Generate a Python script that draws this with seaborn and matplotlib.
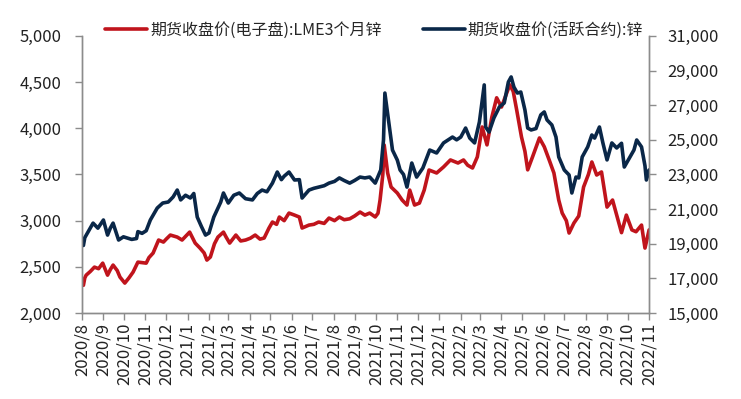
import pandas as pd
import matplotlib
matplotlib.use("Agg")
import matplotlib.pyplot as plt
import matplotlib.dates as mdates
import matplotlib.ticker as mticker
import seaborn as sns

#-------------------
# DATA
#-------------------

lme_dates = [
    "2020-08-03", "2020-08-05", "2020-08-07", "2020-08-13", "2020-08-19", "2020-08-25", "2020-08-31",
    "2020-09-07", "2020-09-11", "2020-09-15", "2020-09-21", "2020-09-25", "2020-10-02", "2020-10-08",
    "2020-10-14", "2020-10-21", "2020-11-02", "2020-11-06", "2020-11-12", "2020-11-20", "2020-11-27",
    "2020-12-01", "2020-12-07", "2020-12-17", "2020-12-24", "2021-01-04", "2021-01-12", "2021-01-19",
    "2021-01-25", "2021-01-29", "2021-02-03", "2021-02-09", "2021-02-14", "2021-02-22", "2021-02-26",
    "2021-03-03", "2021-03-12", "2021-03-19", "2021-03-26", "2021-04-02", "2021-04-09", "2021-04-16",
    "2021-04-22", "2021-04-29", "2021-05-04", "2021-05-10", "2021-05-14", "2021-05-21", "2021-05-28",
    "2021-06-05", "2021-06-12", "2021-06-16", "2021-06-26", "2021-07-03", "2021-07-10", "2021-07-18",
    "2021-07-25", "2021-08-02", "2021-08-09", "2021-08-16", "2021-08-24", "2021-08-31", "2021-09-08",
    "2021-09-15", "2021-09-22", "2021-09-30", "2021-10-04", "2021-10-07", "2021-10-11", "2021-10-13",
    "2021-10-18", "2021-10-23", "2021-11-01", "2021-11-08", "2021-11-15", "2021-11-19", "2021-11-26",
    "2021-12-03", "2021-12-10", "2021-12-17", "2021-12-28", "2022-01-07", "2022-01-17", "2022-01-28",
    "2022-02-05", "2022-02-11", "2022-02-18", "2022-02-25", "2022-03-04", "2022-03-11", "2022-03-18",
    "2022-03-25", "2022-04-01", "2022-04-07", "2022-04-13", "2022-04-18", "2022-04-23", "2022-04-30",
    "2022-05-05", "2022-05-09", "2022-05-16", "2022-05-26", "2022-06-02", "2022-06-09", "2022-06-16",
    "2022-06-23", "2022-06-28", "2022-07-04", "2022-07-08", "2022-07-15", "2022-07-22", "2022-07-29",
    "2022-08-05", "2022-08-10", "2022-08-17", "2022-08-24", "2022-09-01", "2022-09-09", "2022-09-22",
    "2022-09-29", "2022-10-07", "2022-10-13", "2022-10-21", "2022-10-26", "2022-11-01",
]
lme_zinc = [
    2300, 2380, 2410, 2450, 2497, 2480, 2540,
    2410, 2470, 2519, 2460, 2389, 2324, 2380,
    2443, 2551, 2540, 2600, 2649, 2790, 2768,
    2800, 2844, 2822, 2790, 2876, 2757, 2703,
    2650, 2573, 2606, 2750, 2822, 2876, 2820,
    2757, 2844, 2780, 2790, 2810, 2844, 2800,
    2812, 2920, 2985, 2960, 3039, 3000, 3082,
    3060, 3039, 2920, 2952, 2960, 2985, 2970,
    3028, 3000, 3039, 3010, 3020, 3050, 3093,
    3060, 3082, 3040, 3080, 3223, 3500, 3819,
    3516, 3364, 3299, 3223, 3169, 3331, 3169,
    3190, 3331, 3548, 3516, 3581, 3657, 3624,
    3657, 3600, 3570, 3690, 4014, 3820, 4120,
    4330, 4230, 4350, 4470, 4400, 4200, 3906,
    3750, 3550, 3690, 3895, 3800, 3660, 3516,
    3223, 3082, 3000, 2866, 2974, 3050, 3364,
    3500, 3635, 3494, 3527, 3147, 3223, 2870,
    3060, 2900, 2880, 2952, 2703, 2900,
]

shfe_dates = [
    "2020-08-03", "2020-08-05", "2020-08-17", "2020-08-24", "2020-09-01", "2020-09-07", "2020-09-11",
    "2020-09-15", "2020-09-23", "2020-09-30", "2020-10-12", "2020-10-19", "2020-10-21", "2020-10-27",
    "2020-11-02", "2020-11-08", "2020-11-18", "2020-11-26", "2020-12-04", "2020-12-11", "2020-12-17",
    "2020-12-22", "2020-12-29", "2021-01-05", "2021-01-10", "2021-01-15", "2021-01-21", "2021-01-27",
    "2021-02-01", "2021-02-08", "2021-02-18", "2021-02-22", "2021-03-01", "2021-03-09", "2021-03-17",
    "2021-03-26", "2021-04-05", "2021-04-12", "2021-04-19", "2021-04-26", "2021-05-04", "2021-05-11",
    "2021-05-17", "2021-05-21", "2021-05-28", "2021-06-05", "2021-06-12", "2021-06-16", "2021-06-26",
    "2021-07-03", "2021-07-10", "2021-07-18", "2021-07-25", "2021-08-02", "2021-08-09", "2021-08-16",
    "2021-08-24", "2021-08-31", "2021-09-08", "2021-09-15", "2021-09-22", "2021-09-30", "2021-10-08",
    "2021-10-12", "2021-10-14", "2021-10-18", "2021-10-21", "2021-10-25", "2021-11-01", "2021-11-05",
    "2021-11-10", "2021-11-15", "2021-11-22", "2021-11-29", "2021-12-08", "2021-12-18", "2021-12-28",
    "2022-01-07", "2022-01-20", "2022-01-26", "2022-02-01", "2022-02-08", "2022-02-14", "2022-02-21",
    "2022-02-28", "2022-03-07", "2022-03-09", "2022-03-14", "2022-03-21", "2022-03-29", "2022-04-05",
    "2022-04-11", "2022-04-15", "2022-04-19", "2022-04-24", "2022-04-29", "2022-05-05", "2022-05-09",
    "2022-05-14", "2022-05-21", "2022-05-28", "2022-06-02", "2022-06-06", "2022-06-13", "2022-06-19",
    "2022-06-23", "2022-07-01", "2022-07-08", "2022-07-12", "2022-07-18", "2022-07-22", "2022-07-27",
    "2022-08-04", "2022-08-10", "2022-08-14", "2022-08-21", "2022-08-26", "2022-09-01", "2022-09-08",
    "2022-09-15", "2022-09-22", "2022-09-26", "2022-10-10", "2022-10-14", "2022-10-21", "2022-10-26",
    "2022-10-28", "2022-11-01",
]
shfe_zinc = [
    18900, 19350, 20190, 19900, 20370, 19500, 19900,
    20190, 19215, 19400, 19250, 19300, 19700, 19600,
    19750, 20370, 21060, 21350, 21410, 21700, 22100,
    21530, 21800, 21640, 21900, 20540, 20000, 19500,
    19620, 20540, 21400, 21930, 21350, 21800, 21930,
    21600, 21530, 21900, 22100, 22000, 22500, 23140,
    22700, 22900, 23140, 22680, 22700, 21640, 22100,
    22200, 22270, 22350, 22500, 22600, 22800, 22650,
    22500, 22650, 22850, 22800, 22850, 22500, 23260,
    25000, 27700, 26500, 25570, 24410, 23830, 23260,
    23000, 22270, 23660, 22850, 23370, 24410, 24240,
    24820, 25160, 25000, 25160, 25680, 25100, 24820,
    26030, 28170, 25740, 25450, 26260, 26900, 27130,
    28340, 28630, 28050, 27700, 27760, 26720, 25680,
    25570, 25650, 26440, 26610, 26150, 25860, 25160,
    24010, 23260, 22970, 21930, 22850, 22800, 24010,
    24590, 25280, 25100, 25740, 24820, 23840, 24820,
    24530, 24800, 23430, 24410, 24990, 24590, 23500,
    22680, 23260,
]

left_ticks = list(range(2000, 5001, 500))
right_ticks = list(range(15000, 31001, 2000))

lme_label = "期货收盘价(电子盘):LME3个月锌"
shfe_label = "期货收盘价(活跃合约):锌"

#-------------------
# PLOT
#-------------------

sns.set_style("white")
plt.rcParams['font.family'] = ['Noto Sans CJK SC', 'DejaVu Sans']

lme = pd.DataFrame({"date": pd.to_datetime(lme_dates), "value": lme_zinc})
shfe = pd.DataFrame({"date": pd.to_datetime(shfe_dates), "value": shfe_zinc})

red = "#C0141C"
navy = "#0A2748"
grey = "#8C8C8C"

fig, ax = plt.subplots(figsize=(7.41, 3.99), dpi=100)
fig.subplots_adjust(left=0.1107, right=0.876, top=0.91, bottom=0.2155)
ax2 = ax.twinx()

sns.lineplot(data=lme, x="date", y="value", ax=ax, color=red, linewidth=2.6, label=lme_label, legend=False)
sns.lineplot(data=shfe, x="date", y="value", ax=ax2, color=navy, linewidth=2.6, label=shfe_label, legend=False)

ax.set_ylim(left_ticks[0], left_ticks[-1])
ax.yaxis.set_major_locator(mticker.FixedLocator(left_ticks))
ax.yaxis.set_major_formatter(mticker.StrMethodFormatter("{x:,.0f}"))
ax2.set_ylim(right_ticks[0], right_ticks[-1])
ax2.yaxis.set_major_locator(mticker.FixedLocator(right_ticks))
ax2.yaxis.set_major_formatter(mticker.StrMethodFormatter("{x:,.0f}"))

ax.set_xlim(pd.Timestamp("2020-08-01"), pd.Timestamp("2022-11-01"))
ax.xaxis.set_major_locator(mdates.MonthLocator())
ax.xaxis.set_major_formatter(mticker.FuncFormatter(
    lambda v, pos: f"{mdates.num2date(v).year}/{mdates.num2date(v).month}"))

for a in (ax, ax2):
    a.set_xlabel("")
    a.set_ylabel("")
    a.spines["top"].set_visible(False)
    for s in ("left", "right", "bottom"):
        a.spines[s].set_color(grey)
        a.spines[s].set_linewidth(1.0)
    a.tick_params(axis="both", direction="out", length=5, width=1, color=grey,
                  labelsize=12, labelcolor="#222222")

ax.tick_params(axis="y", left=True, pad=10)
ax.tick_params(axis="x", bottom=True, labelrotation=90, pad=2)
ax2.tick_params(axis="y", right=True, pad=8)

h1, l1 = ax.get_legend_handles_labels()
h2, l2 = ax2.get_legend_handles_labels()
fig.legend(h1 + h2, l1 + l2, loc="center", bbox_to_anchor=(0.505, 0.925), ncol=2,
           frameon=False, fontsize=11.5, handlelength=2.6, handletextpad=0.2,
           columnspacing=2.6, borderaxespad=0)

fig.savefig("out.png", dpi=100)
